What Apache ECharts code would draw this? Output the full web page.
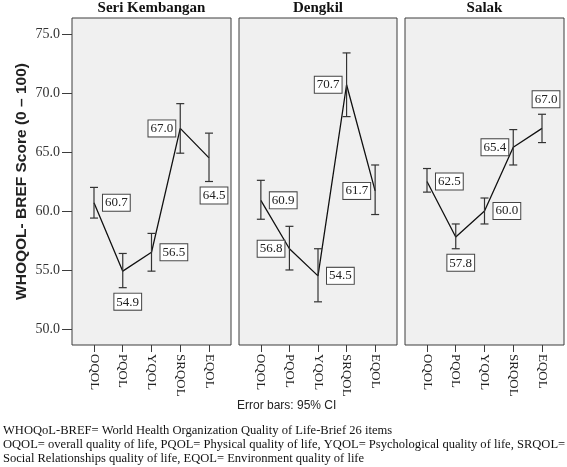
<!DOCTYPE html>
<html>
<head>
<meta charset="utf-8">
<script src="https://cdn.jsdelivr.net/npm/echarts@6/dist/echarts.min.js"></script>
<style>
html,body{margin:0;padding:0;background:#fff;}
#chart{width:567px;height:467px;}
</style>
</head>
<body>
<div id="chart"></div>
<script>
const categories = ['OQOL', 'PQOL', 'YQOL', 'SRQOL', 'EQOL'];
const panelTitles = ['Seri Kembangan', 'Dengkil', 'Salak'];
const yTicks = [50, 55, 60, 65, 70, 75];

const seriMean = [60.7, 54.9, 56.5, 67.0, 64.5];
const seriLow  = [59.4, 53.5, 54.9, 64.9, 62.5];
const seriHigh = [62.0, 56.4, 58.1, 69.1, 66.6];

const dengkilMean = [60.9, 56.8, 54.5, 70.7, 61.7];
const dengkilLow  = [59.3, 55.0, 52.3, 68.0, 59.7];
const dengkilHigh = [62.6, 58.7, 56.8, 73.4, 63.9];

const salakMean = [62.5, 57.8, 60.0, 65.4, 67.0];
const salakLow  = [61.6, 56.8, 58.9, 63.9, 65.8];
const salakHigh = [63.6, 58.9, 61.1, 66.9, 68.2];

const seriLabelSide    = ['right', 'bottom', 'right', 'left', 'bottom'];
const dengkilLabelSide = ['right', 'left', 'right', 'left', 'left'];
const salakLabelSide   = ['right', 'bottom', 'right', 'left', 'top'];

const footnotes = [
  'WHOQoL-BREF= World Health Organization Quality of Life-Brief 26 items',
  'OQOL= overall quality of life, PQOL= Physical quality of life, YQOL= Psychological quality of life, SRQOL=',
  'Social Relationships quality of life, EQOL= Environment quality of life'
];

const panels = [
  {mean: seriMean, low: seriLow, high: seriHigh, side: seriLabelSide},
  {mean: dengkilMean, low: dengkilLow, high: dengkilHigh, side: dengkilLabelSide},
  {mean: salakMean, low: salakLow, high: salakHigh, side: salakLabelSide}
];

const gridBoxes = [
  {left: 72, width: 159},
  {left: 239, width: 158},
  {left: 405, width: 159}
];
const gridTop = 18, gridHeight = 327;
const serif = '"Liberation Serif", "Times New Roman", serif';
const sans = '"Liberation Sans", Arial, sans-serif';

const grids = [], xAxes = [], yAxes = [], series = [], titles = [];
panels.forEach((p, i) => {
  grids.push({
    left: gridBoxes[i].left, width: gridBoxes[i].width, top: gridTop, height: gridHeight,
    show: true, backgroundColor: '#f0f0f0', borderColor: '#3c3c3c', borderWidth: 1, containLabel: false
  });
  titles.push({
    text: panelTitles[i],
    left: gridBoxes[i].left + gridBoxes[i].width / 2,
    top: 1, padding: 0,
    textAlign: 'center',
    textStyle: {fontFamily: serif, fontWeight: 'bold', fontSize: 15, color: '#111'}
  });
  xAxes.push({
    type: 'value', gridIndex: i, min: -0.765, max: 4.765,
    position: 'bottom',
    splitLine: {show: false},
    axisLine: {show: false, onZero: false},
    axisTick: {show: true, inside: false, customValues: [0, 1, 2, 3, 4], length: 7, lineStyle: {color: '#3c3c3c', width: 1}},
    axisLabel: {
      show: true, customValues: [0, 1, 2, 3, 4], rotate: -90, margin: 9,
      formatter: v => categories[Math.round(v)] || '',
      fontFamily: serif, fontSize: 13, color: '#222'
    }
  });
  yAxes.push({
    type: 'value', gridIndex: i, min: 48.64, max: 76.36,
    position: 'left',
    splitLine: {show: false},
    axisLine: {show: false, onZero: false},
    axisTick: {show: i === 0, inside: false, customValues: yTicks, length: 10, lineStyle: {color: '#3c3c3c', width: 1}},
    axisLabel: {
      show: i === 0, customValues: yTicks, margin: 12,
      formatter: v => Number(v).toFixed(1),
      fontFamily: serif, fontSize: 14, color: '#333'
    },
    name: i === 0 ? 'WHOQOL- BREF Score (0 \u2013 100)' : '',
    nameLocation: 'middle', nameRotate: 90, nameGap: 42,
    nameTextStyle: {fontFamily: sans, fontWeight: 'bold', fontSize: 15.5, color: '#222'}
  });
  series.push({
    type: 'line', xAxisIndex: i, yAxisIndex: i,
    data: p.mean.map((v, k) => [k, v]),
    symbol: 'none', lineStyle: {color: '#111', width: 1.3}, z: 3, silent: true
  });
  series.push({
    type: 'custom', xAxisIndex: i, yAxisIndex: i,
    data: p.mean.map((v, k) => [k, v, p.low[k], p.high[k]]),
    z: 4, silent: true,
    renderItem: function (params, api) {
      const k = api.value(0);
      const m = api.coord([k, api.value(1)]);
      const lo = api.coord([k, api.value(2)]);
      const hi = api.coord([k, api.value(3)]);
      const cap = 4;
      const ls = {stroke: '#333', lineWidth: 1.2};
      const side = p.side[params.dataIndex];
      const txt = api.value(1).toFixed(1);
      let tx, ty, align, valign;
      if (side === 'right') { tx = m[0] + 9; ty = m[1]; align = 'left'; valign = 'middle'; }
      else if (side === 'left') { tx = m[0] - 5; ty = m[1]; align = 'right'; valign = 'middle'; }
      else if (side === 'bottom') { tx = m[0] + 5; ty = lo[1] + 6; align = 'center'; valign = 'top'; }
      else { tx = m[0] + 4; ty = hi[1] - 7; align = 'center'; valign = 'bottom'; }
      return {
        type: 'group',
        children: [
          {type: 'line', shape: {x1: hi[0], y1: hi[1], x2: lo[0], y2: lo[1]}, style: ls},
          {type: 'line', shape: {x1: hi[0] - cap, y1: hi[1], x2: hi[0] + cap, y2: hi[1]}, style: ls},
          {type: 'line', shape: {x1: lo[0] - cap, y1: lo[1], x2: lo[0] + cap, y2: lo[1]}, style: ls},
          {type: 'text', x: tx, y: ty, z2: 10, style: {
            text: txt, font: '13px ' + serif, fill: '#222',
            align: align, verticalAlign: valign,
            backgroundColor: '#fff', borderColor: '#444', borderWidth: 1, padding: [2, 2, 1, 2]
          }}
        ]
      };
    }
  });
});

const graphics = [
  {type: 'text', left: 237, top: 400, style: {text: 'Error bars: 95% CI', font: '12px ' + sans, fill: '#222'}}
];
footnotes.forEach((t, j) => {
  graphics.push({type: 'text', left: 3, top: 424 + j * 14.3, style: {text: t, font: '12.55px ' + serif, fill: '#111'}});
});

const chart = echarts.init(document.getElementById('chart'), null, {renderer: 'canvas'});
chart.setOption({
  animation: false,
  backgroundColor: '#fff',
  title: titles,
  grid: grids,
  xAxis: xAxes,
  yAxis: yAxes,
  series: series,
  graphic: graphics
});
</script>
</body>
</html>
